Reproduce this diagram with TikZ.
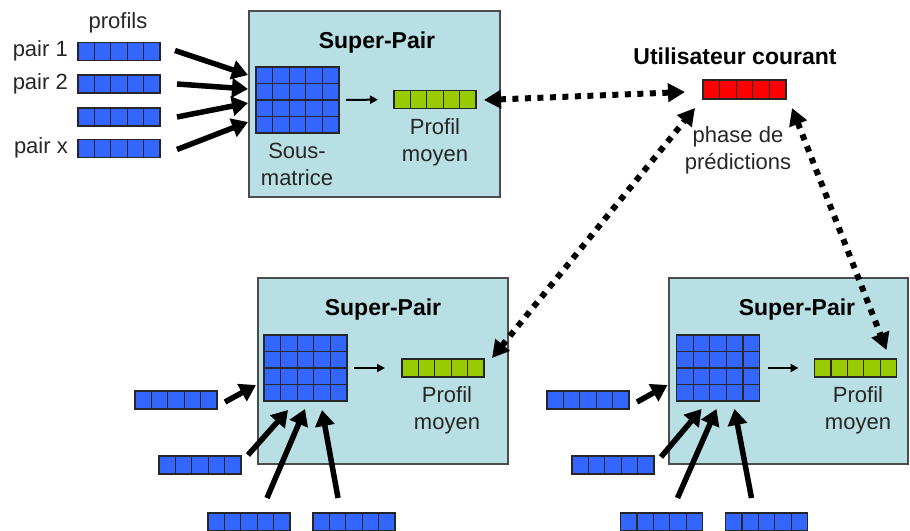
\documentclass[tikz,border=0pt]{standalone}
\usepackage{fontspec}
\setmainfont{Liberation Sans}
\usetikzlibrary{arrows.meta,calc}
\definecolor{boxfill}{RGB}{184,223,227}
\definecolor{cellblue}{RGB}{51,102,255}
\definecolor{cellgreen}{RGB}{153,204,0}
\definecolor{cellred}{RGB}{255,0,0}
\tikzset{
  barbox/.style={draw=black!85, line width=1.6pt, fill=#1, minimum width=82pt, minimum height=18pt,
    inner sep=0pt, outer sep=0pt,
    path picture={\foreach \i in {1,2,3,4}{\draw[black!85,line width=1.2pt]
      ($(path picture bounding box.south west)!\i/5!(path picture bounding box.south east)$) --
      ($(path picture bounding box.north west)!\i/5!(path picture bounding box.north east)$);}}},
  matbox/.style={draw=black!85, line width=1.6pt, fill=cellblue, minimum width=83pt, minimum height=66pt,
    inner sep=0pt, outer sep=0pt,
    path picture={\foreach \i in {1,2,3,4}{\draw[black!85,line width=1.2pt]
      ($(path picture bounding box.south west)!\i/5!(path picture bounding box.south east)$) --
      ($(path picture bounding box.north west)!\i/5!(path picture bounding box.north east)$);}
      \foreach \j in {1,2,3}{\draw[black!85,line width=1.2pt]
      ($(path picture bounding box.south west)!\j/4!(path picture bounding box.north west)$) --
      ($(path picture bounding box.south east)!\j/4!(path picture bounding box.north east)$);}}},
  superbox/.style={draw=black!70, line width=1.2pt, fill=boxfill, minimum height=186pt, inner sep=0pt},
  lbl/.style={font=\fontsize{22}{27}\selectfont, text=black!85, inner sep=0pt, align=center},
  ttl/.style={font=\fontsize{23}{28}\selectfont\bfseries, inner sep=0pt},
  fat/.style={line width=5.5pt, -{Triangle[length=16pt,width=19pt]}},
  thinarrow/.style={line width=2pt, -{Triangle[length=8pt,width=8pt]}},
  dotarrow/.style={line width=6pt, dash pattern=on 6pt off 6.5pt,
    {Triangle[length=17pt,width=18pt]}-{Triangle[length=17pt,width=18pt]}},
}
\begin{document}
\begin{tikzpicture}[x=1pt,y=-1pt]
\useasboundingbox (0,0) rectangle (910,530);
\fill[white] (0,0) rectangle (910,530);

% super-pair boxes
\node[superbox, minimum width=251pt] (sp1) at (374.5,104) {};
\node[superbox, minimum width=250pt] (sp2) at (383,371) {};
\node[superbox, minimum width=239pt] (sp3) at (788.5,371) {};
\node[ttl] (t1) at (377,43) {Super-Pair};
\node[ttl] (t2) at (383,310) {Super-Pair};
\node[ttl] (t3) at (797,310) {Super-Pair};

% top-left inputs
\node[lbl] (profils) at (118,23) {profils};
\node[barbox=cellblue] (p1) at (119,51.5) {};
\node[barbox=cellblue] (p2) at (119,84) {};
\node[barbox=cellblue] (p3) at (119,117) {};
\node[barbox=cellblue] (p4) at (119,148.5) {};
\node[lbl, anchor=east] (l1) at (68,51) {pair 1};
\node[lbl, anchor=east] (l2) at (68,84) {pair 2};
\node[lbl, anchor=east] (l4) at (68,148) {pair x};

% top box content
\node[matbox] (m1) at (297.5,100) {};
\node[barbox=cellgreen] (g1) at (435,99.5) {};
\node[lbl] (sm) at (297,164) {Sous-\\matrice};
\node[lbl] (pm1) at (435,142) {Profil\\moyen};
\draw[thinarrow, shorten <=7pt, shorten >=16pt] (m1.east) -- (g1.west);

\draw[fat] ($(p1.east)+(15,-1)$) -- ($(m1.north west)+(-8,8)$);
\draw[fat] ($(p2.east)+(17,0)$) -- ($(m1.north west)+(-8,22)$);
\draw[fat] ($(p3.east)+(17,0)$) -- ($(m1.north west)+(-8,36)$);
\draw[fat] ($(p4.east)+(17,1)$) -- ($(m1.north west)+(-8,55)$);

% current user
\node[ttl] (uc) at (735,56) {Utilisateur courant};
\node[barbox=cellred, minimum width=83pt, minimum height=19pt] (red) at (744.5,89.5) {};
\node[lbl] (ph) at (738,150) {phase de\\prédictions};

% bottom-left box content
\node[matbox] (m2) at (305.5,368) {};
\node[barbox=cellgreen] (g2) at (443,368) {};
\node[lbl] (pm2) at (447,410) {Profil\\moyen};
\draw[thinarrow, shorten <=7pt, shorten >=17pt] (m2.east) -- (g2.west);
\node[barbox=cellblue] (a2) at (176,400) {};
\node[barbox=cellblue] (b2) at (200,465) {};
\node[barbox=cellblue] (c2) at (249,522) {};
\node[barbox=cellblue] (d2) at (354,522) {};
\draw[fat] ($(a2.east)+(8,2)$) -- ($(m2.north west)+(-8,50)$);
\draw[fat] ($(b2.north east)+(7,-1)$) -- ($(m2.south west)+(24,9)$);
\draw[fat] ($(c2.north)+(18,-15)$) -- ($(m2.south west)+(41,8)$);
\draw[fat] ($(d2.north)+(-16,-15)$) -- ($(m2.south west)+(58,9)$);

% bottom-right box content
\node[matbox] (m3) at (718,368) {};
\node[barbox=cellgreen] (g3) at (855.5,368) {};
\node[lbl] (pm3) at (858,410) {Profil\\moyen};
\draw[thinarrow, shorten <=8pt, shorten >=16pt] (m3.east) -- (g3.west);
\node[barbox=cellblue] (a3) at (588,400) {};
\node[barbox=cellblue] (b3) at (613,465) {};
\node[barbox=cellblue] (c3) at (661.5,522) {};
\node[barbox=cellblue] (d3) at (766.5,522) {};
\draw[fat] ($(a3.east)+(8,2)$) -- ($(m3.north west)+(-9,50)$);
\draw[fat] ($(b3.north east)+(7,1)$) -- ($(m3.south west)+(25,8)$);
\draw[fat] ($(c3.north)+(16,-15)$) -- ($(m3.south west)+(40,8)$);
\draw[fat] ($(d3.north)+(-15,-15)$) -- ($(m3.south west)+(58,8)$);

% dotted prediction links
\draw[dotarrow] ($(g1.east)+(8,0.5)$) -- ($(red.west)+(-18,2.5)$);
\draw[dotarrow] ($(g2.east)+(8,-10)$) -- ($(red.south west)+(-8,9)$);
\draw[dotarrow] ($(red.south east)+(6,9)$) -- ($(g3.north east)+(-10,-9)$);
\end{tikzpicture}
\end{document}
